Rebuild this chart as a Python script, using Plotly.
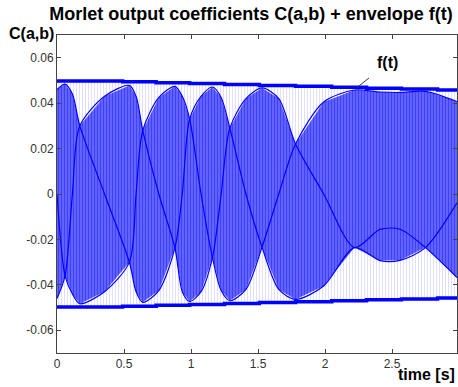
import plotly.graph_objects as go

# envelope f(t): staircase (time of step, value)
env_t = [0, 0.49, 0.74, 0.99, 1.25, 1.51, 1.78, 2.05, 2.31, 2.57, 2.84, 2.985]
env_v = [0.0498, 0.0494, 0.0490, 0.0486, 0.0482, 0.0478, 0.0474, 0.0470, 0.0466, 0.0462, 0.0458, 0.0458]

# sample traces of the coefficients C(a,b) (three aliased sample paths)
tr_t = [0.00, 0.06, 0.115, 0.17, 0.355, 0.54, 0.59, 0.64, 0.76, 0.88, 0.935, 0.99, 1.075,
        1.16, 1.225, 1.29, 1.41, 1.53, 1.655, 1.78, 1.99, 2.22, 2.41, 2.56, 2.75, 2.985]
trace_a = [0.0460, 0.0484, 0.0440, 0.0300, 0.0000, -0.0300, -0.0430, -0.0477, -0.0425, -0.0237, 0.0000, 0.0330, 0.0430,
           0.0471, 0.0425, 0.0290, 0.0000, -0.0234, -0.0420, -0.0464, -0.0405, -0.0236, -0.0293, -0.0292, -0.0236, -0.0039]
trace_b = [0.0000, -0.0360, -0.0440, -0.0483, -0.0430, -0.0300, 0.0000, 0.0280, 0.0425, 0.0474, 0.0430, 0.0330, 0.0000,
           -0.0280, -0.0425, -0.0470, -0.0420, -0.0234, 0.0000, 0.0220, 0.0405, 0.0458, 0.0449, 0.0447, 0.0452, 0.0407]
trace_c = [-0.0460, -0.0360, 0.0000, 0.0300, 0.0430, 0.0478, 0.0430, 0.0280, 0.0000, -0.0237, -0.0430, -0.0473, -0.0430,
           -0.0280, 0.0000, 0.0290, 0.0420, 0.0467, 0.0420, 0.0220, 0.0000, -0.0236, -0.0156, -0.0155, -0.0236, -0.0368]

xticks = [0, 0.5, 1, 1.5, 2, 2.5]
xtick_text = ["0", "0.5", "1", "1.5", "2", "2.5"]
yticks = [-0.06, -0.04, -0.02, 0, 0.02, 0.04, 0.06]
ytick_text = ["-0.06", "-0.04", "-0.02", "0", "0.02", "0.04", "0.06"]

BLUE = "#0000ff"
FONT = "Liberation Sans, Arial, sans-serif"

fig = go.Figure()

# light band between envelopes
band_x = env_t + env_t[::-1]
band_y = env_v + [-v for v in env_v][::-1]
fig.add_trace(go.Scatter(
    x=band_x, y=band_y, mode="lines", line=dict(width=0, shape="hv"), fill="toself",
    fillcolor="rgba(0,0,0,0)",
    fillpattern=dict(shape="|", size=3, solidity=0.3, fgcolor="#b8b8ff", bgcolor="white"),
    hoverinfo="skip", showlegend=False))

# oscillating signal region spanned by the sample traces
upper = [max(a, b, c) for a, b, c in zip(trace_a, trace_b, trace_c)]
lower = [min(a, b, c) for a, b, c in zip(trace_a, trace_b, trace_c)]
fig.add_trace(go.Scatter(
    x=tr_t + tr_t[::-1], y=upper + lower[::-1], mode="lines", line=dict(width=0), fill="toself",
    fillcolor="rgba(0,0,0,0)",
    fillpattern=dict(shape="|", size=3, solidity=0.64, fgcolor=BLUE, bgcolor="#8080ff"),
    hoverinfo="skip", showlegend=False))

# darker sample paths
for tr in (trace_a, trace_b, trace_c):
    fig.add_trace(go.Scatter(x=tr_t, y=tr, mode="lines",
                             line=dict(color=BLUE, width=1.2, shape="spline", smoothing=0.8),
                             showlegend=False, hoverinfo="skip"))

# envelope f(t)
fig.add_trace(go.Scatter(x=env_t, y=env_v, mode="lines", line=dict(color=BLUE, width=3.5, shape="hv"),
                         showlegend=False, hoverinfo="skip"))
fig.add_trace(go.Scatter(x=env_t, y=[-v for v in env_v], mode="lines",
                         line=dict(color=BLUE, width=3.5, shape="hv"), showlegend=False, hoverinfo="skip"))

axis_common = dict(showline=True, linecolor="#444444", linewidth=1, mirror="ticks", ticks="inside",
                   ticklen=4, tickcolor="#444444", showgrid=False, zeroline=False,
                   tickfont=dict(family=FONT, size=12, color="#333333"))

fig.update_xaxes(range=[0, 2.985], tickvals=xticks, ticktext=xtick_text, **axis_common)
fig.update_yaxes(range=[-0.07, 0.07], tickvals=yticks, ticktext=ytick_text, **axis_common)

fig.update_layout(
    width=458, height=387, margin=dict(l=57, r=1, t=35, b=34),
    paper_bgcolor="white", plot_bgcolor="white",
    title=dict(text="<b>Morlet output coefficients C(a,b) + envelope f(t)</b>", x=0.548, xanchor="center",
               y=0.964, yanchor="middle", font=dict(family=FONT, size=18, color="black")),
    annotations=[
        dict(text="<b>C(a,b)</b>", xref="paper", yref="paper", x=-0.003, y=1.005, xanchor="right", yanchor="middle",
             showarrow=False, font=dict(family=FONT, size=16, color="black")),
        dict(text="<b>time [s]</b>", xref="paper", yref="paper", x=1.0, y=-0.068, xanchor="right", yanchor="middle",
             showarrow=False, font=dict(family=FONT, size=16, color="black")),
        dict(text="<b>f(t)</b>", x=2.24, y=0.0469, showarrow=True,
             ax=2.47, ay=0.0578, axref="x", ayref="y", arrowhead=0, arrowwidth=1, arrowcolor="#333333",
             standoff=0, startstandoff=9,
             font=dict(family=FONT, size=16, color="black")),
    ],
)

fig.write_html("out.html")
